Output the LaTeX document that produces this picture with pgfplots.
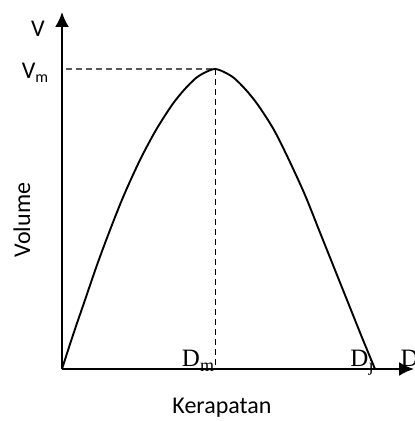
\documentclass[border=0pt]{standalone}
\usepackage{pgfplots}
\pgfplotsset{compat=1.18}
\usepackage{fontspec}
\setmainfont{Carlito}
\newfontfamily\serifD{Liberation Serif}
\usetikzlibrary{arrows.meta}
\begin{document}
\begin{tikzpicture}
\begin{axis}[
  x=1pt, y=1pt,
  xmin=0, xmax=352, ymin=0, ymax=357,
  axis lines=left,
  axis line style={line width=2pt},
  every outer x axis line/.append style={-{Latex[length=15pt,width=14pt]}},
  every outer y axis line/.append style={-{Latex[length=15pt,width=14pt]}},
  xtick=\empty, ytick=\empty,
  clip=false,
]
\path[use as bounding box] (axis cs:-62,-52) rectangle (axis cs:349,369);
% dashed guides
\addplot[gray!70!black, line width=1.1pt, dash pattern=on 6pt off 4pt] coordinates {(4,300) (153,300)};
\addplot[black, line width=1pt, dash pattern=on 6pt off 4pt] coordinates {(153,300) (153,0)};
% curve
\addplot[black, line width=1.9pt, smooth] coordinates {
(0,0) (11,34) (23,69) (35,104) (48,139) (62,174) (78,209) (94,239) (110,264) (122,279) (134,291) (144,297) (153,300)
(162,297) (172,291) (184,279) (196,264) (212,239) (227,209) (243,174) (257,139) (271,104) (285,69) (299,34) (313,0)};
% labels
\node[font=\fontsize{24}{28}\selectfont, anchor=base] at (axis cs:-24,332) {V};
\node[font=\fontsize{24}{28}\selectfont, anchor=base] at (axis cs:-27,290) {V\raisebox{-4pt}{\fontsize{16}{16}\selectfont m}};
\node[font=\serifD\fontsize{25}{28}\selectfont, anchor=base] at (axis cs:136,3) {D\raisebox{-5pt}{\fontsize{18}{18}\selectfont m}};
\node[font=\serifD\fontsize{25}{28}\selectfont, anchor=base] at (axis cs:300,3) {D\raisebox{-5pt}{\fontsize{18}{18}\selectfont j}};
\node[font=\serifD\fontsize{25}{28}\selectfont, anchor=base west] at (axis cs:335,3) {D};
\node[font=\fontsize{24}{28}\selectfont, rotate=90] at (axis cs:-40,149) {Volume};
\node[font=\fontsize{24}{28}\selectfont, anchor=base] at (axis cs:160,-44) {Kerapatan};
\end{axis}
\end{tikzpicture}
\end{document}
